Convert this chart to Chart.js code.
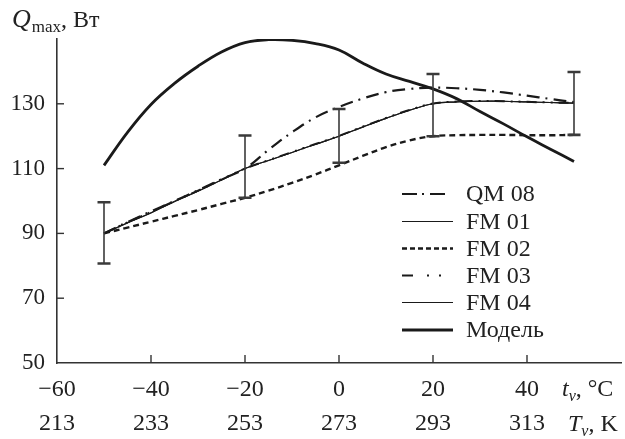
<!DOCTYPE html>
<html>
<head>
<meta charset="utf-8">
<script src="https://cdn.jsdelivr.net/npm/chart.js@4"></script>
<style>
html,body{margin:0;padding:0;background:#fff;}
#wrap{width:625px;height:439px;position:relative;}
</style>
</head>
<body>
<div id="wrap"><canvas id="c"></canvas></div>
<script>
// ---- data ----
const tC = [-50,-45,-40,-35,-30,-25,-20,-15,-10,-5,0,5,10,15,20,25,30,35,40,45,50];
const qm08  = [90,93.5,96.8,100,103.3,106.7,110,115.8,121.2,125.8,129,131.6,133.6,134.6,135,134.8,134.3,133.5,132.5,131.5,130.5];
const fm01  = [90,93.2,96.3,99.8,103,106.5,110,112.5,115,117.5,120,122.8,125.5,128,130,130.6,130.8,130.8,130.6,130.4,130.2];
const fm02  = [90,91.8,93.6,95.4,97.2,99.1,101,103.2,105.6,108.2,111,113.9,116.6,118.7,120,120.3,120.4,120.4,120.3,120.3,120.4];
const fm03  = [90,93.4,96.6,100,103.2,106.6,110,112.6,115.1,117.6,120.1,122.9,125.6,128.1,130.1,130.7,130.9,130.8,130.6,130.4,130.3];
const fm04  = [90,93.3,96.4,99.9,103.1,106.5,110,112.5,115,117.5,120,122.8,125.5,128,130,130.6,130.8,130.8,130.6,130.4,130.2];
const model = [111,121.2,129.8,136.3,141.6,146,148.9,149.8,149.6,148.6,146.6,142.6,139.2,136.9,134.6,131.6,127.6,123.8,119.8,116,112.2];
const errT    = [-50,-20,0,20,50];
const errLow  = [80.7,101,111.8,120,120.4];
const errHigh = [99.6,120.2,128.4,139.2,139.8];
const xTicksC = [-60,-40,-20,0,20,40];
const xTicksK = ['213','233','253','273','293','313'];
const yTicks  = [50,70,90,110,130];
const seriesNames = ['QM 08','FM 01','FM 02','FM 03','FM 04','Модель'];

const FONT = "'Liberation Serif','Times New Roman',serif";
const INK = '#1a1a1a';

function pts(arr){ return tC.map((t,i)=>({x:t,y:arr[i]})); }

const styles = [
  {w:2.2, dash:[13,6,2,6]},
  {w:1.1, dash:[]},
  {w:2.4, dash:[6,4]},
  {w:2.0, dash:[10,6,2,6,2,6]},
  {w:1.1, dash:[]},
  {w:2.8, dash:[]}
];
const seriesData = [qm08,fm01,fm02,fm03,fm04,model];

const datasets = seriesData.map((arr,i)=>({
  label: seriesNames[i],
  data: pts(arr),
  borderColor: INK,
  borderWidth: styles[i].w,
  borderDash: styles[i].dash,
  pointRadius: 0,
  fill: false,
  tension: 0.4
}));

const decor = {
  id:'decor',
  afterDatasetsDraw(chart){
    const ctx = chart.ctx, xs = chart.scales.x, ys = chart.scales.y;
    ctx.save();
    // error bars
    ctx.strokeStyle = '#3a3a3a';
    ctx.lineWidth = 1.6;
    ctx.setLineDash([]);
    errT.forEach((t,i)=>{
      const x = xs.getPixelForValue(t);
      const y1 = ys.getPixelForValue(errLow[i]);
      const y2 = ys.getPixelForValue(errHigh[i]);
      ctx.beginPath();
      ctx.moveTo(x,y1); ctx.lineTo(x,y2);
      ctx.stroke();
      ctx.lineWidth = 2.6;
      ctx.beginPath();
      ctx.moveTo(x-6.5,y1); ctx.lineTo(x+6.5,y1);
      ctx.moveTo(x-6.5,y2); ctx.lineTo(x+6.5,y2);
      ctx.stroke();
      ctx.lineWidth = 1.6;
    });
    // inward ticks
    ctx.strokeStyle = '#333';
    ctx.lineWidth = 1.4;
    const left = chart.chartArea.left, bottom = chart.chartArea.bottom;
    yTicks.forEach(v=>{
      if (v===50) return;
      const y = ys.getPixelForValue(v);
      ctx.beginPath(); ctx.moveTo(left,y); ctx.lineTo(left+7,y); ctx.stroke();
    });
    xTicksC.forEach(v=>{
      if (v===-60) return;
      const x = xs.getPixelForValue(v);
      ctx.beginPath(); ctx.moveTo(x,bottom); ctx.lineTo(x,bottom-8); ctx.stroke();
    });
    // legend
    const lx0 = 402, lx1 = 453, tx = 466;
    const rows = [194,221.5,248.5,275.5,302.5,330];
    ctx.fillStyle = '#222';
    ctx.font = '24px ' + FONT;
    ctx.textBaseline = 'middle';
    ctx.textAlign = 'left';
    const legDash = [[15,5,2,6,15,10],[],[5,3],[11,14,2,10,2,20],[],[]];
    rows.forEach((y,i)=>{
      ctx.strokeStyle = INK;
      ctx.lineWidth = styles[i].w;
      ctx.setLineDash(legDash[i]);
      ctx.beginPath(); ctx.moveTo(lx0,y); ctx.lineTo(lx1,y); ctx.stroke();
      ctx.setLineDash([]);
      ctx.fillText(seriesNames[i], tx, y+1);
    });
    // axis titles
    ctx.textBaseline = 'alphabetic';
    function seq(parts, x, y){
      parts.forEach(p=>{
        ctx.font = p.f;
        ctx.fillText(p.t, x, y + (p.dy||0));
        x += ctx.measureText(p.t).width + (p.gap||0);
      });
    }
    seq([
      {t:'Q', f:'italic 26px '+FONT, gap:1},
      {t:'max', f:'17px '+FONT, dy:5},
      {t:', Вт', f:'24px '+FONT}
    ], 12, 27);
    seq([
      {t:'t', f:'italic 24px '+FONT},
      {t:'v', f:'italic 16px '+FONT, dy:5},
      {t:', °C', f:'24px '+FONT}
    ], 562, 396);
    seq([
      {t:'T', f:'italic 24px '+FONT},
      {t:'v', f:'italic 16px '+FONT, dy:5},
      {t:', K', f:'24px '+FONT}
    ], 568, 431);
    ctx.restore();
  }
};

new Chart(document.getElementById('c'), {
  type:'line',
  data:{datasets},
  options:{
    responsive:true,
    maintainAspectRatio:false,
    animation:false,
    layout:{padding:{top:39,right:4,left:0,bottom:0}},
    plugins:{legend:{display:false},tooltip:{enabled:false}},
    scales:{
      x:{
        type:'linear', min:-60, max:60,
        afterBuildTicks(s){ s.ticks = xTicksC.map(v=>({value:v})); },
        afterFit(s){ s.height = 76; },
        grid:{display:false, drawTicks:false},
        border:{display:true,color:'#333',width:1.6},
        ticks:{
          autoSkip:false, maxRotation:0, padding:9,
          color:'#222',
          font:{family:FONT,size:24,lineHeight:1.45},
          callback(v){
            const i = xTicksC.indexOf(v);
            const c = v<0 ? '\u2212'+Math.abs(v) : String(v);
            return [c, xTicksK[i]];
          }
        }
      },
      y:{
        type:'linear', min:50, max:150,
        afterBuildTicks(s){ s.ticks = yTicks.map(v=>({value:v})); },
        afterFit(s){ s.width = 57; },
        grid:{display:false, drawTicks:false},
        border:{display:true,color:'#333',width:1.6},
        ticks:{padding:12,color:'#222',font:{family:FONT,size:23}}
      }
    }
  },
  plugins:[decor]
});
</script>
</body>
</html>
